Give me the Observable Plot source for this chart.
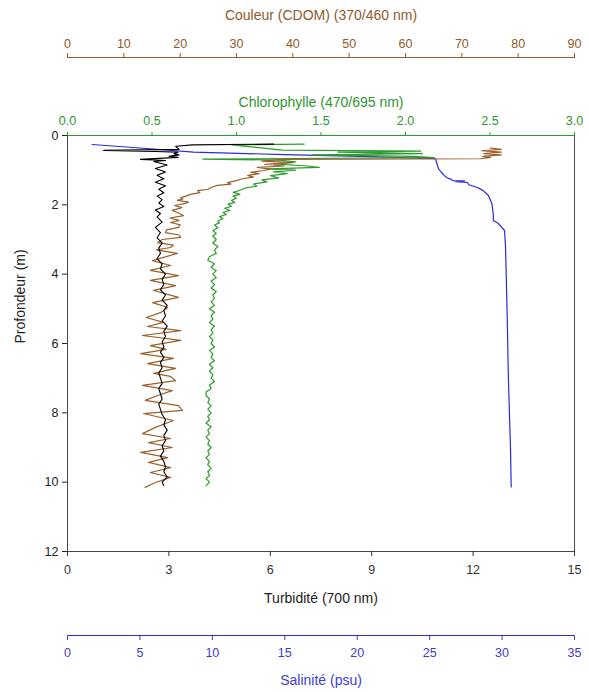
<!DOCTYPE html>
<html><head><meta charset="utf-8">
<script src="https://cdn.jsdelivr.net/npm/d3@7"></script>
<script src="https://cdn.jsdelivr.net/npm/@observablehq/plot@0.6"></script>
<style>body{margin:0;background:#fff;}</style>
</head><body><div id="chart"></div><script>
// ---- tick labels ----
const depthTicks = [0, 2, 4, 6, 8, 10, 12];
const turbTicks = [0, 3, 6, 9, 12, 15];
const chlTicks = [0, 0.5, 1, 1.5, 2, 2.5, 3];
const cdomTicks = [0, 10, 20, 30, 40, 50, 60, 70, 80, 90];
const salTicks = [0, 5, 10, 15, 20, 25, 30, 35];

// ---- Salinité (psu) ----
const salDepth = [0.26, 0.36, 0.48, 0.55, 0.61, 0.67, 0.8, 0.95, 1.06, 1.15, 1.22, 1.25, 1.3, 1.31, 1.33, 1.35, 1.42, 1.5, 1.59, 1.73, 1.97, 2.3, 2.45, 2.54, 2.74, 3.22, 5.13, 7.07, 8.99, 10.14];
const salValue = [1.7, 5.0, 8.7, 15.0, 21.0, 25.4, 25.5, 25.6, 25.8, 26.0, 26.2, 26.4, 26.6, 27.4, 26.8, 27.6, 27.7, 28.3, 28.7, 29.06, 29.3, 29.4, 29.4, 29.75, 30.17, 30.24, 30.35, 30.44, 30.58, 30.63];

// ---- Turbidité (700 nm) ----
const turbDepth = [0.25, 0.27, 0.31, 0.40, 0.43, 0.46, 0.48, 0.53, 0.56, 0.60, 0.63, 0.69, 0.72,
  0.75, 0.85, 0.95, 1.05, 1.15, 1.25, 1.35, 1.45, 1.55, 1.65, 1.75, 1.85, 1.95, 2.05, 2.15, 2.25, 2.35, 2.5, 2.65, 2.8, 2.95,
  3.1, 3.25, 3.4, 3.55, 3.7, 3.85, 4.0, 4.15, 4.3, 4.45, 4.6, 4.75, 4.9, 5.05, 5.2, 5.35, 5.5, 5.65, 5.8, 5.95,
  6.1, 6.25, 6.4, 6.55, 6.7, 6.85, 7.0, 7.15, 7.3, 7.45, 7.6, 7.75, 7.9, 8.05, 8.2, 8.35, 8.5, 8.65, 8.8, 8.95,
  9.1, 9.25, 9.4, 9.55, 9.7, 9.85, 10.0, 10.1];
const turbValue = [6.1, 3.7, 3.2, 3.3, 1.07, 2.6, 3.27, 3.15, 3.3, 3.0, 3.27, 2.16, 2.9,
  2.55, 2.95, 2.6, 2.9, 2.65, 2.85, 2.6, 2.9, 2.7, 2.85, 2.65, 2.8, 2.7, 2.85, 2.6, 2.75, 2.65, 2.8, 2.6, 2.75, 2.65,
  2.8, 2.7, 2.75, 2.65, 2.8, 2.75, 2.9, 2.8, 2.85, 2.75, 2.9, 2.8, 2.95, 2.85, 2.9, 2.8, 2.95, 2.85, 2.9, 2.8,
  2.85, 2.75, 2.85, 2.75, 2.8, 2.7, 2.75, 2.8, 2.7, 2.75, 2.8, 2.7, 2.75, 2.8, 2.9, 2.85, 2.95, 2.85, 2.9, 2.8,
  2.85, 2.75, 2.85, 2.9, 2.85, 2.95, 2.8, 2.85];

// ---- Chlorophylle (470/695 nm) ----
const chlDepth = [0.25, 0.27, 0.42, 0.45, 0.48, 0.52, 0.56, 0.60, 0.64, 0.68, 0.71, 0.76, 0.82, 0.88, 0.92, 0.96, 1.0, 1.05, 1.1, 1.16, 1.22, 1.28, 1.34, 1.4, 1.46, 1.52, 1.58, 1.64, 1.7, 1.75, 1.81, 1.87, 1.93, 1.98, 2.04, 2.1, 2.16, 2.22, 2.28, 2.34, 2.4, 2.46, 2.52, 2.58, 2.66, 2.74, 2.82, 2.9,
  3.0, 3.1, 3.2, 3.3, 3.4, 3.5, 3.6, 3.7, 3.8, 3.9, 4.0, 4.1, 4.2, 4.3, 4.4, 4.5, 4.6, 4.7, 4.8, 4.9, 5.0, 5.1, 5.2, 5.3, 5.4, 5.5, 5.6, 5.7, 5.8, 5.9, 6.0, 6.1, 6.2, 6.3, 6.4, 6.5, 6.6, 6.7, 6.8, 6.9, 7.0, 7.1, 7.2, 7.3, 7.4, 7.5, 7.6, 7.7, 7.8, 7.9, 8.0, 8.1, 8.2, 8.3, 8.4, 8.5, 8.6, 8.7, 8.8, 8.9, 9.0, 9.1, 9.2, 9.3, 9.4, 9.5, 9.6, 9.7, 9.8, 9.9, 10.0, 10.1];
const chlValue = [1.40, 0.97, 1.27, 2.09, 1.60, 2.10, 1.45, 2.05, 2.17, 0.80, 1.25, 1.35, 1.22, 1.42, 1.49, 1.18, 1.35, 1.22, 1.30, 1.20, 1.25, 1.15, 1.18, 1.10, 1.12, 1.05, 1.02, 0.98, 1.02, 0.98, 1.00, 0.97, 0.99, 0.95, 0.97, 0.93, 0.96, 0.92, 0.94, 0.90, 0.92, 0.89, 0.90, 0.87, 0.89, 0.86, 0.88, 0.86,
  0.88, 0.86, 0.89, 0.87, 0.88, 0.84, 0.83, 0.87, 0.85, 0.88, 0.86, 0.88, 0.85, 0.87, 0.85, 0.88, 0.86, 0.87, 0.85, 0.87, 0.84, 0.87, 0.85, 0.86, 0.84, 0.87, 0.85, 0.86, 0.84, 0.86, 0.85, 0.87, 0.84, 0.86, 0.85, 0.87, 0.84, 0.86, 0.84, 0.86, 0.85, 0.87, 0.84, 0.85, 0.82, 0.82, 0.84, 0.83, 0.85, 0.83, 0.85, 0.83, 0.84, 0.82, 0.85, 0.83, 0.84, 0.82, 0.84, 0.83, 0.85, 0.83, 0.84, 0.82, 0.84, 0.83, 0.85, 0.83, 0.84, 0.82, 0.84, 0.82];

// ---- Couleur (CDOM) (370/460 nm) ----
const cdomDepth = [0.36, 0.40, 0.44, 0.48, 0.52, 0.56, 0.60, 0.63, 0.67, 0.69, 0.74, 0.78, 0.83, 0.88, 0.92, 0.97, 1.01, 1.06, 1.10, 1.15, 1.20, 1.24, 1.30, 1.36, 1.40, 1.44, 1.50, 1.55, 1.59, 1.65, 1.70, 1.75, 1.79, 1.83, 1.87, 1.92, 1.96, 2.02, 2.08, 2.16, 2.22, 2.31, 2.38, 2.45, 2.51, 2.58, 2.65, 2.72, 2.80, 2.87, 2.94, 3.00, 3.09, 3.16, 3.23, 3.30,
  3.40, 3.61, 3.75, 3.89, 4.04, 4.18, 4.33, 4.47, 4.67, 4.82, 4.96, 5.11, 5.25, 5.39, 5.51, 5.63, 5.77, 5.91, 6.06, 6.17, 6.29, 6.43, 6.58, 6.72, 6.86, 6.95, 7.07, 7.21, 7.36, 7.50, 7.64, 7.79, 7.93, 8.02, 8.22, 8.42, 8.60, 8.74, 8.86, 9.00, 9.14, 9.29, 9.43, 9.58, 9.72, 9.86, 10.01, 10.15];
const cdomValue = [75.0, 77.0, 73.5, 77.0, 73.9, 77.0, 73.7, 75.1, 73.3, 38.0, 34.5, 40.0, 35.0, 38.5, 33.7, 36.0, 34.8, 32.5, 34.0, 32.0, 33.0, 31.2, 30.0, 28.4, 29.0, 26.6, 25.5, 25.0, 23.1, 23.5, 21.8, 21.0, 20.1, 20.5, 19.5, 21.5, 20.9, 19.0, 20.3, 18.6, 19.5, 20.6, 18.2, 19.8, 18.3, 20.0, 19.7, 17.6, 17.4, 19.8, 20.1, 16.8, 16.0, 18.8, 18.3, 15.8,
  19.5, 15.1, 18.3, 14.7, 19.7, 14.7, 19.2, 15.3, 19.7, 15.1, 17.8, 16.5, 14.0, 17.0, 14.2, 20.1, 13.3, 20.1, 14.7, 17.5, 13.0, 18.8, 14.2, 19.2, 15.3, 18.3, 19.2, 13.3, 18.6, 16.0, 13.8, 19.7, 20.4, 13.5, 18.8, 15.6, 13.3, 18.3, 14.4, 18.6, 13.0, 17.8, 14.4, 18.3, 14.7, 18.3, 15.6, 13.8];

// ---- colours ----
const brown = "#9c5f2a", green = "#2f9b2f", blue = "#2a2ae0", black = "#000000";
const brownText = "#8f5a2b", greenText = "#2e962e", blueText = "#3d3dd8";

// map secondary scales onto the turbidity (0–15) scale
const TMAX = 15;
const fromChl = v => v * TMAX / 3;
const fromCdom = v => v * TMAX / 90;
const fromSal = v => v * TMAX / 35;

const series = (depth, value, f) => depth.map((d, i) => ({depth: d, x: f(value[i])}));
const salData = series(salDepth, salValue, fromSal);
const turbData = series(turbDepth, turbValue, v => v);
const chlData = series(chlDepth, chlValue, fromChl);
const cdomData = series(cdomDepth, cdomValue, fromCdom);

const font = "Liberation Sans, Arial, sans-serif";

const chart = Plot.plot({
  width: 589, height: 692,
  marginTop: 135, marginBottom: 141, marginLeft: 67, marginRight: 15,
  style: {fontFamily: font, fontSize: "12px", background: "white", color: "#222"},
  x: {domain: [0, 15]},
  y: {domain: [0, 12], reverse: true},
  marks: [
    Plot.line(salData, {x: "x", y: "depth", stroke: blue, strokeWidth: 1.2}),
    Plot.line(chlData, {x: "x", y: "depth", stroke: green, strokeWidth: 1.2}),
    Plot.line(cdomData, {x: "x", y: "depth", stroke: brown, strokeWidth: 1.2}),
    Plot.line(turbData, {x: "x", y: "depth", stroke: black, strokeWidth: 1.1}),
    Plot.frame({stroke: "#4a4a4a"}),
    Plot.ruleY([0], {stroke: green, strokeWidth: 1.2}),
    Plot.axisY(depthTicks, {anchor: "left", tickSize: 5, tickPadding: 4, label: null, color: "#222", fontSize: 12.5}),
    Plot.axisX(turbTicks, {anchor: "bottom", tickSize: 5, tickPadding: 9, label: null, color: "#333", fontSize: 12.5}),
    Plot.axisX(chlTicks.map(fromChl), {anchor: "top", tickSize: 4, tickPadding: 7, label: null, color: greenText, fontSize: 12.5,
      tickFormat: d => (d * 3 / TMAX).toFixed(1)}),
    Plot.ruleY([0], {dy: -78, stroke: brown, strokeWidth: 1.2}),
    Plot.axisX(cdomTicks.map(fromCdom), {anchor: "top", dy: -78, tickSize: 5, tickPadding: 5, label: null, color: brownText, fontSize: 12.5,
      tickFormat: d => String(Math.round(d * 90 / TMAX))}),
    Plot.ruleY([12], {dy: 84, stroke: blue, strokeWidth: 1.2}),
    Plot.axisX(salTicks.map(fromSal), {anchor: "bottom", dy: 84, tickSize: 5, tickPadding: 8, label: null, color: blueText, fontSize: 12.5,
      tickFormat: d => String(Math.round(d * 35 / TMAX))}),
    Plot.text(["Couleur (CDOM) (370/460 nm)"], {text: d => d, frameAnchor: "top", dy: -120, fill: brownText, fontSize: 14, lineAnchor: "middle"}),
    Plot.text(["Chlorophylle (470/695 nm)"], {text: d => d, frameAnchor: "top", dy: -33, fill: greenText, fontSize: 14, lineAnchor: "middle"}),
    Plot.text(["Turbidité (700 nm)"], {text: d => d, frameAnchor: "bottom", dy: 47, fill: "#222", fontSize: 14, lineAnchor: "middle"}),
    Plot.text(["Salinité (psu)"], {text: d => d, frameAnchor: "bottom", dy: 129, fill: blueText, fontSize: 14, lineAnchor: "middle"}),
    Plot.text(["Profondeur (m)"], {text: d => d, frameAnchor: "left", dx: -47, rotate: -90, fill: "#222", fontSize: 14, lineAnchor: "middle"})
  ]
});
document.getElementById("chart").appendChild(chart);
</script></body></html>
